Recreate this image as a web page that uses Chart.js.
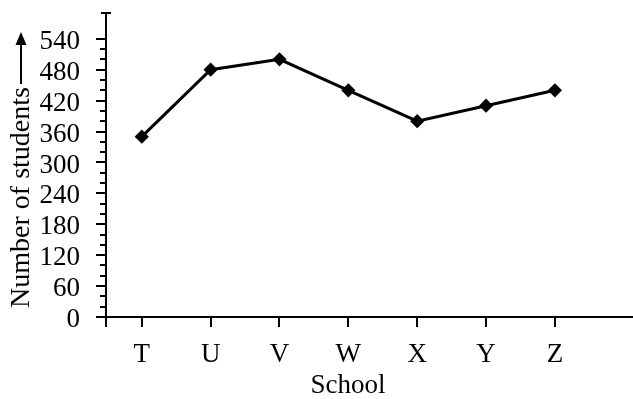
<!DOCTYPE html>
<html><head><meta charset="utf-8">
<script src="https://cdn.jsdelivr.net/npm/chart.js@4"></script>
<style>html,body{margin:0;padding:0;background:#fff}canvas{display:block}</style>
</head><body><canvas id="c" width="633" height="399"></canvas>
<script>
const categories = ['T', 'U', 'V', 'W', 'X', 'Y', 'Z'];
const students = [350, 480, 500, 440, 380, 410, 440];
const yTickLabels = [0, 60, 120, 180, 240, 300, 360, 420, 480, 540];
const yMinorStep = 20;
const xTitle = 'School';
const yTitle = 'Number of students';

const FONT = "'Liberation Serif', 'Times New Roman', serif";
const FS = 27;
const TFS = 28;

const axisPlugin = {
  id: 'axisDecor',
  afterDraw(chart) {
    const ctx = chart.ctx, x = chart.scales.x, y = chart.scales.y;
    const ax = Math.round(x.left), ay = Math.round(y.getPixelForValue(0));
    ctx.save();
    ctx.strokeStyle = '#000';
    ctx.lineWidth = 2;
    ctx.beginPath();
    ctx.moveTo(ax, y.top); ctx.lineTo(ax, ay + 10);
    ctx.moveTo(ax - 5, y.top); ctx.lineTo(ax + 5, y.top);
    ctx.moveTo(ax - 10, ay); ctx.lineTo(chart.width, ay);
    const maxT = yTickLabels[yTickLabels.length - 1];
    for (let v = 0; v <= maxT; v += yMinorStep) {
      const p = Math.round(y.getPixelForValue(v));
      const major = yTickLabels.includes(v);
      ctx.moveTo(ax - (major ? 10 : 6), p); ctx.lineTo(ax, p);
    }
    categories.forEach((c, i) => {
      const p = Math.round(x.getPixelForValue(i + 1));
      ctx.moveTo(p, ay); ctx.lineTo(p, ay + 10);
    });
    ctx.stroke();

    // y title with arrow
    ctx.font = TFS + 'px ' + FONT;
    ctx.fillStyle = '#000';
    const w = ctx.measureText(yTitle).width;
    const cy = (chart.chartArea.top + chart.chartArea.bottom) / 2 + 5;
    const arrowLen = 52;
    const gap = 3;
    const total = w + gap + arrowLen;
    ctx.translate(21, cy);
    ctx.rotate(-Math.PI / 2);
    ctx.textAlign = 'left';
    ctx.textBaseline = 'middle';
    const sx = -total / 2;
    ctx.fillText(yTitle, sx, 1);
    const a0 = sx + w + gap, a1 = sx + total;
    ctx.lineWidth = 2;
    ctx.beginPath();
    ctx.moveTo(a0, 0); ctx.lineTo(a1 - 10, 0);
    ctx.stroke();
    ctx.beginPath();
    ctx.moveTo(a1, 0); ctx.lineTo(a1 - 13, -5.5); ctx.lineTo(a1 - 13, 5.5); ctx.closePath();
    ctx.fill();
    ctx.restore();
  }
};

new Chart(document.getElementById('c'), {
  type: 'line',
  data: {
    datasets: [{
      data: categories.map((c, i) => ({ x: i + 1, y: students[i] })),
      borderColor: '#000',
      borderWidth: 3,
      pointStyle: 'rectRot',
      pointRadius: 5,
      pointBackgroundColor: '#000',
      pointBorderColor: '#000',
      tension: 0
    }]
  },
  plugins: [axisPlugin],
  options: {
    responsive: false,
    devicePixelRatio: 1,
    animation: false,
    layout: { padding: { top: 13, left: 0, right: 43, bottom: 0 } },
    plugins: { legend: { display: false }, tooltip: { enabled: false } },
    scales: {
      x: {
        type: 'linear',
        position: 'bottom',
        min: 0.48,
        max: 7.51,
        afterBuildTicks: s => { s.ticks = categories.map((c, i) => ({ value: i + 1 })); },
        ticks: {
          callback: v => categories[v - 1],
          font: { family: FONT, size: FS },
          color: '#000',
          padding: 14,
          autoSkip: false,
          maxRotation: 0
        },
        grid: { display: false },
        border: { display: false },
        title: { display: true, text: xTitle, font: { family: FONT, size: FS }, color: '#000', padding: { top: 0, bottom: -3 } },
        afterFit: s => { s.height = 82; s.paddingLeft = 0; s.paddingRight = 0; }
      },
      y: {
        min: 0,
        max: 590,
        afterBuildTicks: s => { s.ticks = yTickLabels.map(v => ({ value: v })); },
        ticks: {
          font: { family: FONT, size: FS },
          color: '#000',
          padding: 18,
          labelOffset: 3,
          autoSkip: false
        },
        grid: { display: false },
        border: { display: false },
        afterFit: s => { s.width = 106; s.paddingTop = 0; s.paddingBottom = 0; }
      }
    }
  }
});
</script>
</body></html>
